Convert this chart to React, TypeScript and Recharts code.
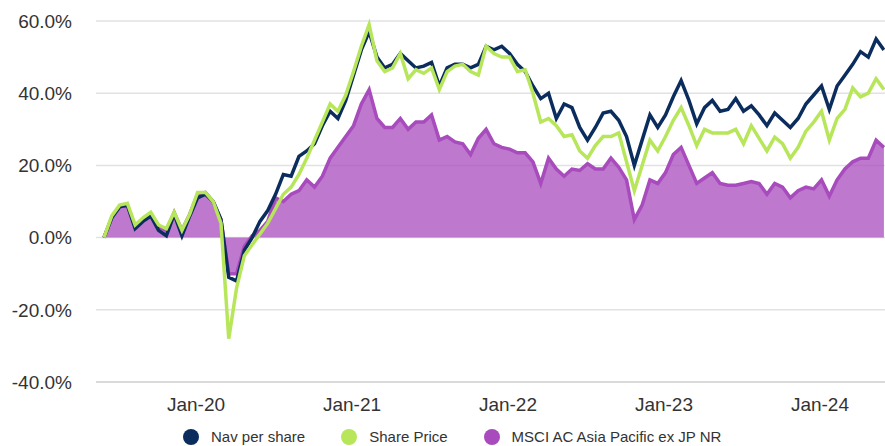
import React from 'react';
import { ComposedChart, Line, Area, XAxis, YAxis, CartesianGrid } from 'recharts';

// time grid: fractional years, one point about every 2.6 weeks
const START = 2019.41;
const STEP = 0.05;

const navPerShare = [
  0, 5.5, 8.5, 9, 2.5, 4.5, 6, 2, 0.5, 6.5,
  0.5, 6, 11, 12, 10, 5, -11, -12, -3.5, 0,
  4.5, 7.5, 12, 17.5, 17, 22.5, 24, 26, 31, 35,
  33, 38, 45, 52, 57, 50, 47, 48, 51, 49,
  47, 47.5, 48.5, 42, 47, 48, 48, 47, 48, 53,
  52, 53, 51, 48, 46, 42, 38.5, 40, 33, 37,
  36, 30.5, 27, 30.5, 34.5, 35, 32.5, 28, 20, 27,
  34, 30.5, 34, 39, 43.5, 38, 31.5, 36, 38, 35,
  35.5, 38.5, 35, 36.5, 34, 31, 34.5, 32.5, 30.5, 33,
  37, 39.5, 42, 35.5, 42, 45, 48, 51.5, 50, 55,
  52,
];

const sharePrice = [
  0, 6, 9, 9.5, 3.5, 5.5, 7, 3.5, 2.5, 7,
  2, 6.5, 12.5, 12.5, 10, 4, -28, -14, -5, -2,
  1, 4, 8, 12, 14, 17.5, 22, 27, 32, 37,
  35, 39.5, 46, 53, 59, 49, 46, 47, 51, 44,
  46.5, 45.5, 47, 41, 46, 47.5, 48, 46, 45, 53,
  51, 50, 50, 46, 46.5, 40, 32, 33, 31, 28,
  28.5, 24, 22, 25.5, 28, 28, 29, 21, 13, 20,
  27, 24, 28, 32.5, 36, 31, 25.5, 30, 29, 29,
  29, 30, 26, 31, 27.5, 24, 27.8, 26, 22, 25,
  29.5, 32, 35, 27, 33, 35.5, 41.5, 39, 40, 44,
  41,
];

const msciAsiaPac = [
  0, 5.5, 8.5, 9, 3, 5, 6.5, 3, 2, 7,
  2, 6.5, 12, 12.5, 10, 5, -10, -10, -2.5, 0.5,
  2, 4.5, 11, 10, 12, 13, 16, 14, 17, 22,
  25, 28, 31, 37, 41, 33, 30.5, 30.5, 33, 30,
  32, 32, 34, 27, 28, 26.5, 26, 23, 27.5, 30,
  26, 25, 24.5, 23.5, 23.5, 21, 15, 22, 19, 17,
  19, 18.6, 20.5, 19, 19, 22, 19.5, 16, 5, 9,
  16, 15, 18, 23, 25, 20, 15, 16.5, 18, 15,
  14.5, 14.5, 15, 15.5, 15, 12, 15, 14, 11, 13,
  14, 13.5, 16, 11.5, 16, 19, 21, 22, 22, 27,
  25,
];

const xTicks = [2020, 2021, 2022, 2023, 2024];
const xTickLabels = ['Jan-20', 'Jan-21', 'Jan-22', 'Jan-23', 'Jan-24'];
const yTicks = [-40, -20, 0, 20, 40, 60];

const seriesNames = ['Nav per share', 'Share Price', 'MSCI AC Asia Pacific ex JP NR'];
const seriesColors = ['#0b2d5e', '#b8e65a', '#a84bbd'];

const data = navPerShare.map((v, i) => ({
  t: START + i * STEP,
  nav: v,
  price: sharePrice[i],
  msci: msciAsiaPac[i],
}));

const FONT = '"Liberation Sans", Arial, sans-serif';

export default function App() {
  return (
    <div style={{ position: 'absolute', left: 0, top: 0, width: 885, height: 446, fontFamily: FONT }}>
      <ComposedChart width={885} height={446} data={data} margin={{ top: 21, right: 0, bottom: 34, left: 0 }}>
        <CartesianGrid horizontal vertical={false} stroke="#e2e2e2" strokeWidth={1.5} />
        <XAxis
          dataKey="t"
          type="number"
          domain={[2019.359, 2024.417]}
          ticks={xTicks}
          tickFormatter={(v) => xTickLabels[xTicks.indexOf(v)] ?? ''}
          height={30}
          tickLine={false}
          tickSize={0}
          tickMargin={16}
          axisLine={{ stroke: '#d4d4d4', strokeWidth: 1.5 }}
          tick={{ fill: '#333', fontSize: 19, fontFamily: FONT }}
          allowDataOverflow
        />
        <YAxis
          type="number"
          domain={[-40, 60]}
          ticks={yTicks}
          width={96}
          axisLine={false}
          tickLine={false}
          tickSize={0}
          tickMargin={24}
          tickFormatter={(v) => `${v.toFixed(1)}%`}
          tick={{ fill: '#333', fontSize: 19, fontFamily: FONT }}
        />
        {/* nav under share price, index area on top with translucent fill */}
        <Line type="linear" dataKey="nav" name={seriesNames[0]} stroke={seriesColors[0]} strokeWidth={3.5} dot={false} activeDot={false} isAnimationActive={false} />
        <Line type="linear" dataKey="price" name={seriesNames[1]} stroke={seriesColors[1]} strokeWidth={3.5} dot={false} activeDot={false} isAnimationActive={false} />
        <Area type="linear" dataKey="msci" name={seriesNames[2]} stroke={seriesColors[2]} strokeWidth={3.5} fill={seriesColors[2]} fillOpacity={0.75} dot={false} activeDot={false} isAnimationActive={false} />
      </ComposedChart>
      <div style={{ position: 'absolute', left: 183, top: 428, display: 'flex', alignItems: 'center', fontSize: 15, color: '#333' }}>
        {seriesNames.map((name, i) => (
          <div key={name} style={{ display: 'flex', alignItems: 'center', marginRight: 36 }}>
            <span style={{ width: 16, height: 16, borderRadius: 8, background: seriesColors[i], marginRight: 12, display: 'inline-block' }} />
            <span>{name}</span>
          </div>
        ))}
      </div>
    </div>
  );
}
